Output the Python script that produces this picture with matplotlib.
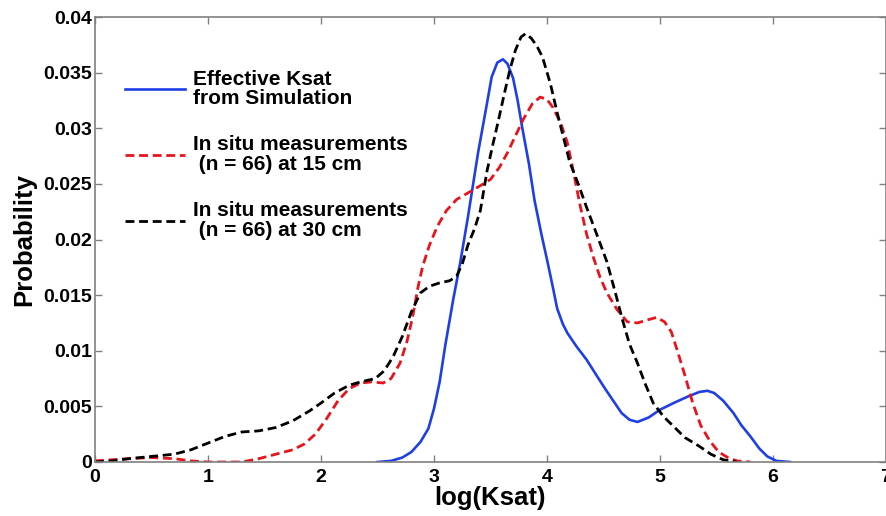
import numpy as np
import matplotlib
matplotlib.use('Agg')
import matplotlib.pyplot as plt
from matplotlib.ticker import FuncFormatter

plt.rcParams['font.family'] = ['Liberation Sans', 'DejaVu Sans']
plt.rcParams['font.weight'] = 'bold'

# Effective Ksat from simulation (blue)
sim_x = [2.50, 2.62, 2.72, 2.80, 2.88, 2.95, 3.00, 3.05, 3.10, 3.17, 3.23, 3.30,
         3.39, 3.47, 3.51, 3.56, 3.61, 3.65, 3.70, 3.74, 3.78, 3.84, 3.89, 3.95,
         4.00, 4.05, 4.09, 4.14, 4.18, 4.26, 4.35, 4.45, 4.52, 4.58, 4.66, 4.73,
         4.80, 4.90, 5.00, 5.12, 5.25, 5.35, 5.42, 5.48, 5.56, 5.65, 5.72, 5.80,
         5.88, 5.95, 6.03, 6.15]
sim_y = [0.0000, 0.0001, 0.0004, 0.0009, 0.0018, 0.0030, 0.0048, 0.0072, 0.0105,
         0.0146, 0.0178, 0.0220, 0.0278, 0.0323, 0.0346, 0.0359, 0.0362, 0.0358,
         0.0345, 0.0325, 0.0301, 0.0268, 0.0235, 0.0205, 0.0182, 0.0158, 0.0138,
         0.0124, 0.0116, 0.0104, 0.0092, 0.0076, 0.0065, 0.0056, 0.0044, 0.0038,
         0.0036, 0.0040, 0.0047, 0.0053, 0.0059, 0.0063, 0.0064, 0.0062, 0.0055,
         0.0044, 0.0033, 0.0023, 0.0012, 0.0005, 0.0001, 0.0000]

# In situ measurements at 15 cm (red)
m15_x = [0.00, 0.15, 0.30, 0.50, 0.70, 0.85, 1.00, 1.30, 1.45, 1.60, 1.75, 1.85,
         1.95, 2.05, 2.15, 2.25, 2.35, 2.45, 2.55, 2.62, 2.70, 2.76, 2.81, 2.86,
         2.90, 2.96, 3.03, 3.11, 3.20, 3.32, 3.42, 3.50, 3.58, 3.65, 3.72, 3.79,
         3.87, 3.94, 4.00, 4.05, 4.12, 4.18, 4.24, 4.29, 4.35, 4.41, 4.47, 4.53,
         4.62, 4.71, 4.80, 4.90, 4.97, 5.04, 5.10, 5.16, 5.22, 5.29, 5.36, 5.44,
         5.52, 5.60, 5.68, 5.80]
m15_y = [0.0001, 0.0002, 0.0003, 0.0004, 0.0003, 0.0001, 0.0000, 0.0000, 0.0003,
         0.0007, 0.0011, 0.0016, 0.0025, 0.0039, 0.0055, 0.0066, 0.0071, 0.0072,
         0.0071, 0.0075, 0.0089, 0.0108, 0.0130, 0.0158, 0.0176, 0.0195, 0.0212,
         0.0226, 0.0236, 0.0243, 0.0249, 0.0254, 0.0265, 0.0278, 0.0293, 0.0308,
         0.0322, 0.0328, 0.0326, 0.0319, 0.0305, 0.0287, 0.0258, 0.0232, 0.0205,
         0.0184, 0.0166, 0.0152, 0.0137, 0.0126, 0.0125, 0.0128, 0.0130, 0.0126,
         0.0117, 0.0098, 0.0078, 0.0053, 0.0033, 0.0019, 0.0009, 0.0004, 0.0001,
         0.0000]

# In situ measurements at 30 cm (black)
m30_x = [0.00, 0.15, 0.30, 0.50, 0.70, 0.85, 1.00, 1.15, 1.30, 1.45, 1.60, 1.75,
         1.90, 2.00, 2.12, 2.25, 2.35, 2.48, 2.56, 2.64, 2.72, 2.80, 2.88, 2.96,
         3.05, 3.14, 3.20, 3.25, 3.30, 3.36, 3.41, 3.47, 3.52, 3.57, 3.62, 3.67,
         3.72, 3.77, 3.81, 3.86, 3.91, 3.96, 4.03, 4.09, 4.15, 4.20, 4.28, 4.35,
         4.45, 4.53, 4.60, 4.67, 4.73, 4.80, 4.87, 4.94, 5.03, 5.12, 5.22, 5.35,
         5.45, 5.56, 5.68]
m30_y = [0.0000, 0.0001, 0.0003, 0.0005, 0.0007, 0.0011, 0.0017, 0.0023, 0.0027,
         0.0028, 0.0031, 0.0037, 0.0046, 0.0053, 0.0062, 0.0069, 0.0072, 0.0075,
         0.0082, 0.0095, 0.0113, 0.0135, 0.0152, 0.0158, 0.0161, 0.0163, 0.0167,
         0.0178, 0.0195, 0.0210, 0.0226, 0.0262, 0.0285, 0.0307, 0.0330, 0.0352,
         0.0370, 0.0382, 0.0385, 0.0381, 0.0374, 0.0364, 0.0340, 0.0314, 0.0290,
         0.0270, 0.0249, 0.0229, 0.0202, 0.0180, 0.0154, 0.0127, 0.0106, 0.0089,
         0.0070, 0.0053, 0.0041, 0.0032, 0.0022, 0.0014, 0.0007, 0.0002, 0.0000]

labels = ['Effective Ksat\nfrom Simulation',
          'In situ measurements\n (n = 66) at 15 cm',
          'In situ measurements\n (n = 66) at 30 cm']

fig = plt.figure(figsize=(8.86, 5.16), dpi=100)
ax = fig.add_axes([95 / 886, 54 / 516, 791 / 886, 445 / 516])

ax.plot(sim_x, sim_y, color='#1f3fe6', lw=1.9, label=labels[0])
ax.plot(m15_x, m15_y, color='#e8141c', lw=2.0, dashes=(3.2, 1.7), label=labels[1])
ax.plot(m30_x, m30_y, color='black', lw=2.0, dashes=(3.2, 1.7), label=labels[2])

ax.set_xlim(0, 7)
ax.set_ylim(0, 0.04)
ax.set_xticks(range(8))
ax.set_yticks(np.arange(0, 0.0401, 0.005))
ax.yaxis.set_major_formatter(FuncFormatter(lambda v, p: '%g' % round(v, 4)))

ax.tick_params(direction='in', top=True, right=True, length=5, width=1,
               color='#808080', labelsize=14, pad=2)
ax.tick_params(axis='x', pad=5)
for s in ax.spines.values():
    s.set_color('#808080')
    s.set_linewidth(1.2)

ax.set_xlabel('log(Ksat)', fontsize=18.5, fontweight='bold', labelpad=0)
ax.set_ylabel('Probability', fontsize=18.5, fontweight='bold', labelpad=5)

leg = ax.legend(loc='upper left', bbox_to_anchor=(0.038, 0.882), frameon=False,
                fontsize=15, handlelength=2.9, handletextpad=0.35,
                labelspacing=1.3, borderpad=0, borderaxespad=0)
for t in leg.get_texts():
    t.set_linespacing(1.05)

fig.savefig('out.png', dpi=100)
